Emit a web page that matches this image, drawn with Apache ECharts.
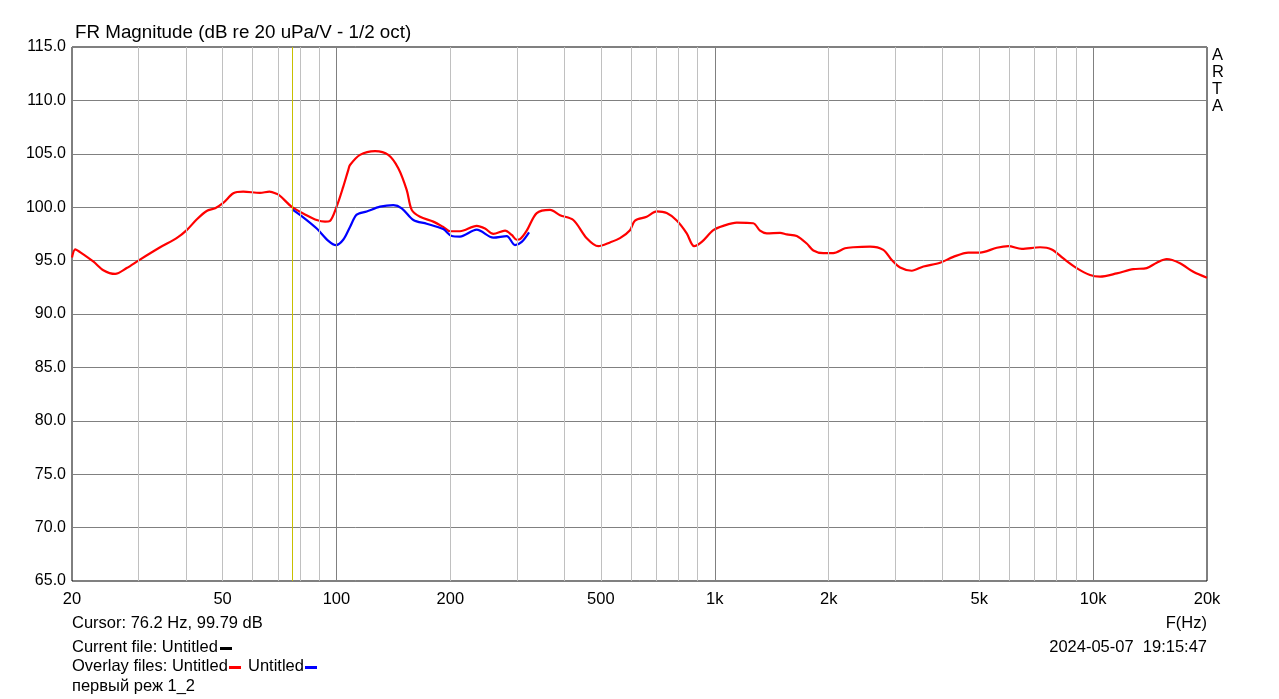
<!DOCTYPE html>
<html>
<head>
<meta charset="utf-8">
<script src="https://cdn.jsdelivr.net/npm/echarts@6/dist/echarts.min.js"></script>
<style>
html,body{margin:0;padding:0;background:#fff;}
#c{width:1279px;height:699px;}
</style>
</head>
<body>
<div id="c"></div>
<script>
// ---- data ----
const redFreq = [20,20.4,21.0,22.8,24.2,26.0,27.9,30.1,34.2,37.8,40.2,42.7,45.4,47.8,50.2,53.4,56.7,62.8,66.5,69.5,71.0,76.4,83.4,88.7,93.3,96,100.1,104.2,107.5,108.6,115.4,126.5,137.1,145.7,153.4,158.1,166.3,180.3,191.5,199.6,212.1,234.8,247,259.8,279,290.6,299.6,305.7,318.4,338.4,367,389.9,422.7,458.7,492.2,528.5,561.6,596.9,615.3,660.7,702.3,746.4,793.3,843.1,881.6,923.8,991,1053,1143,1264,1317,1372,1488,1550,1647,1750,1822,1936,2057,2209,2324,2573,2789,2936,3089,3316,3560,3940,4271,4679,5024,5563,5970,6477,7240,7773,8344,9048,9814,10429,11549,12776,13857,14726,15650,16974,18401,20000];
const redDb = [95.3,96.05,95.8,94.9,94.1,93.75,94.3,95.05,96.25,97.1,97.85,98.85,99.65,99.9,100.4,101.3,101.45,101.35,101.45,101.25,101.05,100.0,99.25,98.8,98.65,98.7,100.05,101.9,103.5,103.95,104.9,105.25,104.9,103.65,101.6,99.75,99.1,98.65,98.15,97.75,97.75,98.25,98.0,97.5,97.8,97.4,96.95,97.0,97.8,99.45,99.75,99.25,98.8,97.1,96.35,96.7,97.1,97.85,98.75,99.1,99.6,99.45,98.75,97.55,96.35,96.75,97.85,98.25,98.55,98.5,97.8,97.55,97.6,97.45,97.3,96.6,95.95,95.7,95.7,96.15,96.25,96.3,96.0,95.05,94.35,94.05,94.45,94.8,95.35,95.75,95.75,96.2,96.35,96.1,96.25,96.05,95.2,94.3,93.65,93.5,93.8,94.2,94.3,94.8,95.15,94.75,93.95,93.4];
const blueFreq = [76.4,81.7,88.7,95.2,99.7,104.2,108.6,113.1,120.2,130.4,141.4,148.8,159.7,173.2,191.5,201.7,212.1,234.8,259.8,281.9,296.5,308.8,322.9];
const blueDb = [99.8,99.05,98.0,96.85,96.45,96.95,98.15,99.3,99.6,100.05,100.2,99.9,98.8,98.45,97.95,97.3,97.25,97.9,97.15,97.3,96.45,96.75,97.65];
const xTickLabels = [20,50,100,200,500,1000,2000,5000,10000,20000];
const minorGridFreq = [30,40,50,60,70,80,90,200,300,400,500,600,700,800,900,2000,3000,4000,5000,6000,7000,8000,9000];
const decadeGridFreq = [100,1000,10000];
const cursorFreq = 76.2;
const cursorText = 'Cursor: 76.2 Hz, 99.79 dB';

const FONT = "'Liberation Sans', Arial, sans-serif";
const TXT = '16.5px ' + FONT;
const zip = (a,b)=>a.map((v,i)=>[v,b[i]]);

const chart = echarts.init(document.getElementById('c'));
chart.setOption({
  animation:false,
  backgroundColor:'#fff',
  grid:{left:72, top:47, width:1135, height:534, show:true, borderColor:'#000', borderWidth:1, backgroundColor:'transparent'},
  xAxis:{
    type:'log', logBase:10, min:20, max:20000,
    axisLine:{show:false}, axisTick:{show:false}, splitLine:{show:false}, minorSplitLine:{show:false},
    axisLabel:{
      customValues: xTickLabels,
      showMinLabel:true, showMaxLabel:true,
      fontSize:16.5, fontFamily:FONT, color:'#000', margin:10,
      formatter: v => v>=1000 ? (v/1000)+'k' : String(v)
    }
  },
  yAxis:{
    type:'value', min:65, max:115, interval:5,
    axisLine:{show:false}, axisTick:{show:false},
    splitLine:{show:true, lineStyle:{color:'#808080', width:1}},
    axisLabel:{fontSize:16, fontFamily:FONT, color:'#000', margin:6, formatter:v=>v.toFixed(1)}
  },
  series:[
    {
      type:'line', data:[], z:1, silent:true,
      markLine:{
        silent:true, symbol:'none', animation:false,
        label:{show:false},
        data: minorGridFreq.map(f=>({xAxis:f, lineStyle:{color:'#c0c0c0', width:1, type:'solid'}}))
          .concat(decadeGridFreq.map(f=>({xAxis:f, lineStyle:{color:'#808080', width:1, type:'solid'}})))
          .concat([{xAxis:cursorFreq, lineStyle:{color:'#c8c000', width:1, type:'solid'}}])
      }
    },
    {
      type:'line', name:'red', data:zip(redFreq, redDb), z:3,
      showSymbol:false, smooth:0.3,
      lineStyle:{color:'#ff0000', width:2.2}, itemStyle:{color:'#ff0000'}
    },
    {
      type:'line', name:'blue', data:zip(blueFreq, blueDb), z:4,
      showSymbol:false, smooth:0.3,
      lineStyle:{color:'#0000ff', width:2.2}, itemStyle:{color:'#0000ff'}
    }
  ],
  graphic:[
    {type:'text', left:75, top:23, style:{text:'FR Magnitude (dB re 20 uPa/V - 1/2 oct)', font:'18.8px '+FONT, fill:'#000'}},
    {type:'text', left:1212, top:47, style:{text:'A\nR\nT\nA', font:TXT, fill:'#000', lineHeight:17, align:'left'}},
    {type:'text', right:72, top:615, style:{text:'F(Hz)', font:TXT, fill:'#000'}},
    {type:'text', left:72, top:615, style:{text:cursorText, font:TXT, fill:'#000'}},
    {type:'text', left:72, top:639, style:{text:'Current file: Untitled', font:TXT, fill:'#000'}},
    {type:'rect', left:220, top:647, shape:{width:12, height:3}, style:{fill:'#000'}},
    {type:'text', left:72, top:658, style:{text:'Overlay files: Untitled', font:TXT, fill:'#000'}},
    {type:'rect', left:229, top:666, shape:{width:12, height:3}, style:{fill:'#ff0000'}},
    {type:'text', left:248, top:658, style:{text:'Untitled', font:TXT, fill:'#000'}},
    {type:'rect', left:305, top:666, shape:{width:12, height:3}, style:{fill:'#0000ff'}},
    {type:'text', left:72, top:678, style:{text:'первый реж 1_2', font:TXT, fill:'#000'}},
    {type:'text', right:72, top:639, style:{text:'2024-05-07  19:15:47', font:TXT, fill:'#000'}}
  ]
});
</script>
</body>
</html>
